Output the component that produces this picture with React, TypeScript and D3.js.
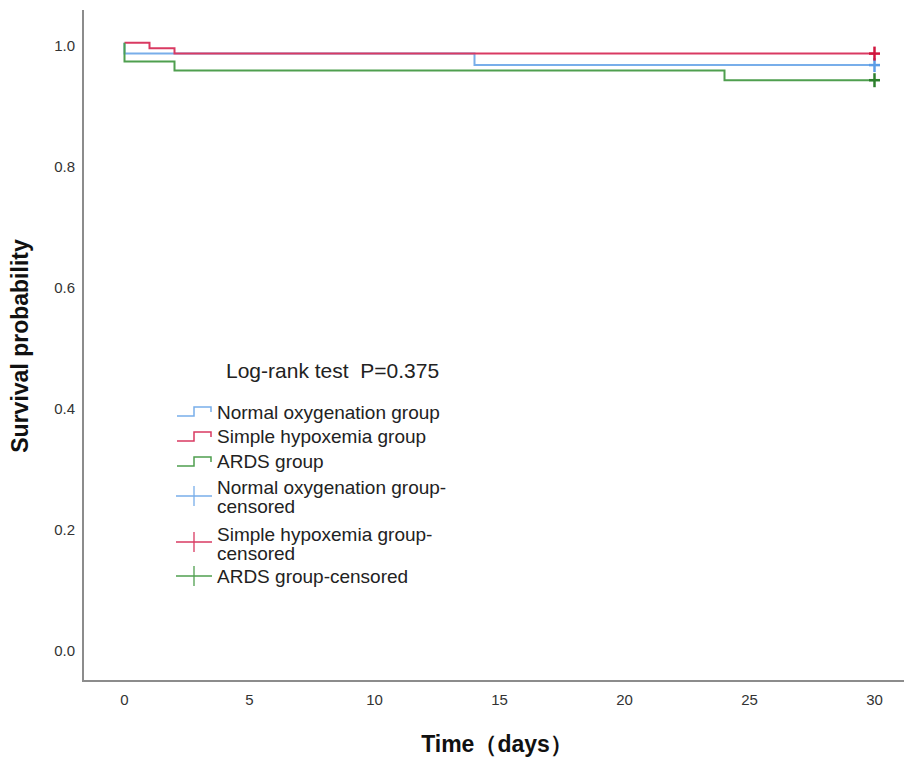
import React from "react";
import * as d3 from "d3";

const normalTimes = [0, 0, 14, 30];
const normalSurv = [1.0, 0.982, 0.963, 0.963];
const hypoxTimes = [0, 1, 2, 30];
const hypoxSurv = [1.0, 0.991, 0.982, 0.982];
const ardsTimes = [0, 0, 2, 24, 30];
const ardsSurv = [1.0, 0.969, 0.954, 0.938, 0.938];
const censorTimes = [30, 30, 30];
const xTicks = [0, 5, 10, 15, 20, 25, 30];
const yTicks = [0, 0.2, 0.4, 0.6, 0.8, 1.0];
const lineColors = ["#78aeea", "#d93a62", "#4f9f4f"];
const markColors = ["#5b9de6", "#d0163e", "#2c7f2c"];
const legendLabels = [
  ["Normal oxygenation group"],
  ["Simple hypoxemia group"],
  ["ARDS group"],
  ["Normal oxygenation group-", "censored"],
  ["Simple hypoxemia group-", "censored"],
  ["ARDS group-censored"],
];

export default function App() {
  const W = 904, H = 759;
  const x = d3.scaleLinear().domain([0, 30]).range([124.5, 874.5]);
  const y = d3.scaleLinear().domain([0, 1]).range([647.7, 42.7]);
  const line = d3
    .line<[number, number]>()
    .x((d) => x(d[0]))
    .y((d) => y(d[1]))
    .curve(d3.curveStepAfter);
  const series = [
    normalTimes.map((t, i) => [t, normalSurv[i]] as [number, number]),
    hypoxTimes.map((t, i) => [t, hypoxSurv[i]] as [number, number]),
    ardsTimes.map((t, i) => [t, ardsSurv[i]] as [number, number]),
  ];
  const font = "'Liberation Sans', Arial, sans-serif";
  const axisColor = "#8c8c8c";

  const legRows = [411, 436, 461, 496, 542, 576];
  const legBase = [419, 443, 468, 493.5, 540.5, 583];
  return (
    <svg width={W} height={H} style={{ position: "absolute", left: 0, top: 0, background: "#fff" }} fontFamily={font}>
      {/* axes */}
      <line x1={83} x2={83} y1={10} y2={682} stroke={axisColor} strokeWidth={2} />
      <line x1={82} x2={904} y1={681} y2={681} stroke={axisColor} strokeWidth={2} />
      {yTicks.map((t) => (
        <text key={t} x={75} y={y(t) + 8} textAnchor="end" fontSize={15} fill="#333">
          {t.toFixed(1)}
        </text>
      ))}
      {xTicks.map((t) => (
        <text key={t} x={x(t)} y={705} textAnchor="middle" fontSize={15} fill="#333">
          {t}
        </text>
      ))}
      <text
        transform={`translate(28,346) rotate(-90)`}
        textAnchor="middle"
        fontSize={23}
        fontWeight="bold"
        fill="#111"
      >
        Survival probability
      </text>
      <text x={497} y={752} textAnchor="middle" fontSize={23} fontWeight="bold" fill="#111">
        Time（days）
      </text>
      {/* curves */}
      {series.map((s, i) => (
        <path key={i} d={line(s) || ""} fill="none" stroke={lineColors[i]} strokeWidth={2} />
      ))}
      {/* censor marks */}
      {series.map((s, i) => {
        const cx = x(censorTimes[i]);
        const cy = y(s[s.length - 1][1]);
        return (
          <g key={"c" + i} stroke={markColors[i]} strokeWidth={2.5}>
            <line x1={cx} x2={cx} y1={cy - 7} y2={cy + 7} />
            <line x1={cx - 5.5} x2={cx + 5.5} y1={cy} y2={cy} />
          </g>
        );
      })}
      {/* legend */}
      <text x={226} y={378} fontSize={21} fill="#222">
        Log-rank test{"\u00a0\u00a0"}P=0.375
      </text>
      {legendLabels.map((lab, i) => {
        const c = lineColors[i % 3];
        const ry = legRows[i];
        return (
          <g key={"l" + i}>
            {i < 3 ? (
              <path
                d={`M177,${ry + 5}H194V${ry - 4}H211V${ry + 1}`}
                fill="none"
                stroke={c}
                strokeWidth={1.5}
              />
            ) : (
              <g stroke={c} strokeWidth={1.3}>
                <line x1={176} x2={212} y1={ry} y2={ry} />
                <line x1={194} x2={194} y1={ry - 10} y2={ry + 10} />
              </g>
            )}
            {lab.map((t, j) => (
              <text key={j} x={217} y={legBase[i] + j * 19.5} fontSize={19} fill="#222">
                {t}
              </text>
            ))}
          </g>
        );
      })}
    </svg>
  );
}
